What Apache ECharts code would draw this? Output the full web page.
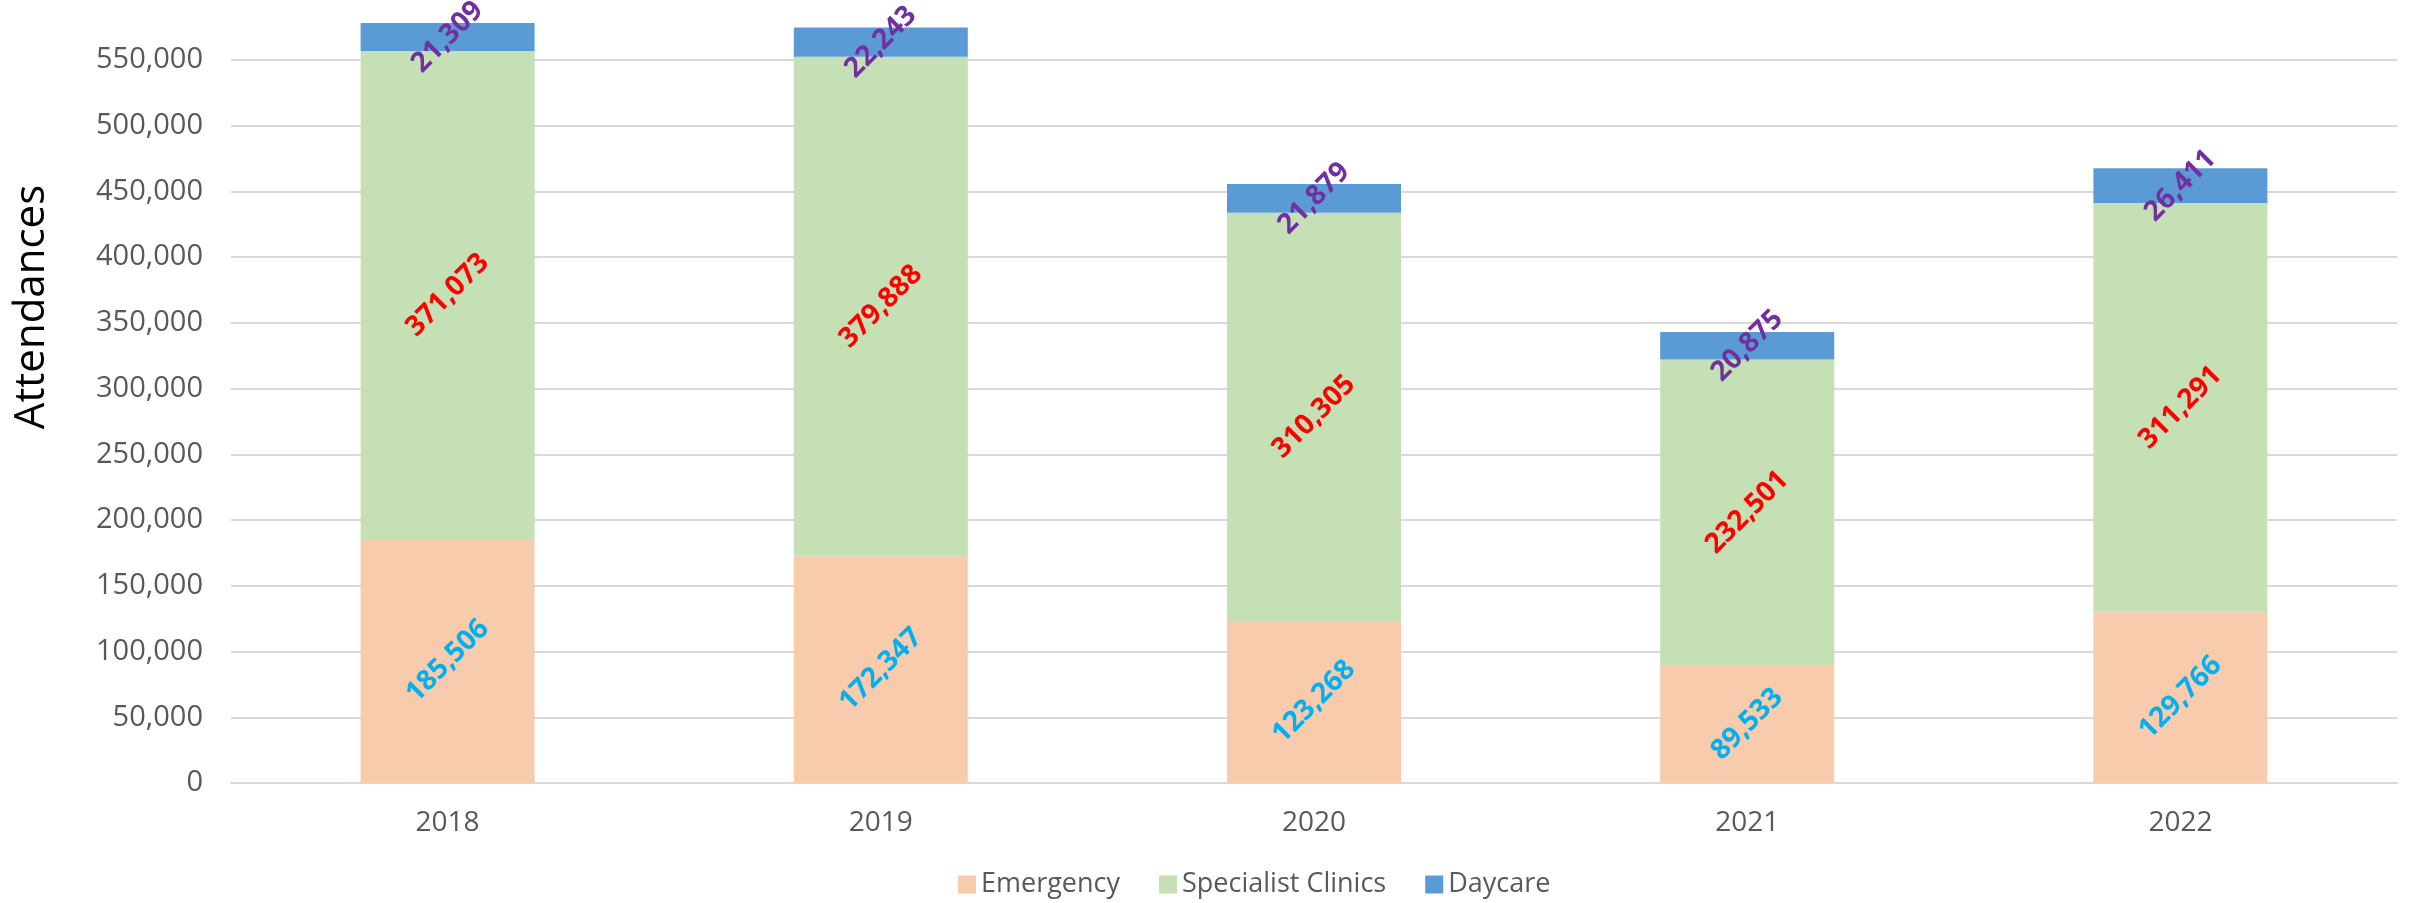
<!DOCTYPE html>
<html>
<head>
<meta charset="utf-8">
<script src="https://cdn.jsdelivr.net/npm/echarts@6/dist/echarts.min.js"></script>
<style>
  html, body { margin: 0; padding: 0; background: #fff; }
  #chart { width: 2410px; height: 903px; }
</style>
</head>
<body>
<div id="chart"></div>
<script>
const years = ["2018", "2019", "2020", "2021", "2022"];
const emergency = [185506, 172347, 123268, 89533, 129766];
const specialistClinics = [371073, 379888, 310305, 232501, 311291];
const daycare = [21309, 22243, 21879, 20875, 26411];

const FONT = "'Open Sans', sans-serif";
const fmt = (v) => Number(v).toLocaleString("en-US");

const chart = echarts.init(document.getElementById("chart"));

const makeLabel = (color) => ({
  show: true,
  position: "inside",
  rotate: 45,
  color: color,
  fontFamily: FONT,
  fontWeight: "bold",
  fontSize: 28,
  formatter: (p) => fmt(p.value),
});

chart.setOption({
  animation: false,
  backgroundColor: "#ffffff",
  textStyle: { fontFamily: FONT },
  // top is negative so the 600,000 line sits just above the canvas, like the original
  grid: { left: 231, right: 13, top: -6, bottom: 120, show: false, outerBoundsMode: "none" },
  graphic: [
    {
      type: "text",
      x: 32,
      y: 307,
      rotation: Math.PI / 2,
      style: {
        text: "Attendances",
        fontFamily: FONT,
        fontSize: 42,
        fill: "#000000",
        align: "center",
        verticalAlign: "middle",
      },
    },
  ],
  legend: {
    left: 953,
    top: 866,
    icon: "rect",
    itemWidth: 18,
    itemHeight: 18,
    itemGap: 39,
    textStyle: { fontFamily: FONT, fontSize: 27, color: "#595959" },
    data: ["Emergency", "Specialist Clinics", "Daycare"],
  },
  xAxis: {
    type: "category",
    data: years,
    axisTick: { show: false },
    splitLine: { show: false },
    axisLine: { lineStyle: { color: "#D9D9D9", width: 2 } },
    axisLabel: { fontFamily: FONT, fontSize: 28, color: "#595959", margin: 26 },
  },
  yAxis: {
    type: "value",
    min: 0,
    max: 600000,
    interval: 50000,
    axisLine: { show: false },
    axisTick: { show: false },
    axisLabel: {
      fontFamily: FONT,
      fontSize: 29,
      color: "#595959",
      margin: 28,
      showMaxLabel: false,
      formatter: (v) => fmt(v),
    },
    splitLine: { lineStyle: { color: "#D9D9D9", width: 2 } },
  },
  series: [
    {
      name: "Emergency",
      type: "bar",
      stack: "total",
      barWidth: 174,
      data: emergency,
      itemStyle: { color: "#F8CBAD" },
      label: makeLabel("#00B0F0"),
    },
    {
      name: "Specialist Clinics",
      type: "bar",
      stack: "total",
      barWidth: 174,
      data: specialistClinics,
      itemStyle: { color: "#C5E0B4" },
      label: makeLabel("#FF0000"),
    },
    {
      name: "Daycare",
      type: "bar",
      stack: "total",
      barWidth: 174,
      data: daycare,
      itemStyle: { color: "#5B9BD5" },
      label: makeLabel("#7030A0"),
    },
  ],
});
</script>
</body>
</html>
